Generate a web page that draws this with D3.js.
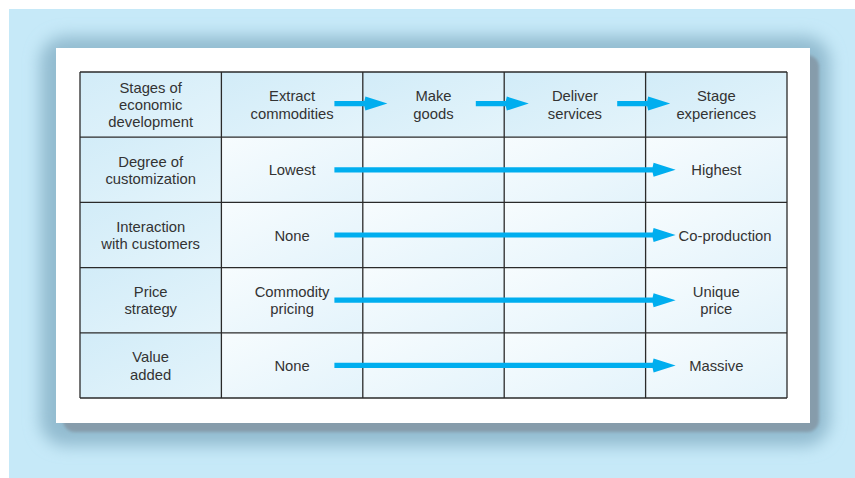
<!DOCTYPE html>
<html><head><meta charset="utf-8">
<script src="https://cdn.jsdelivr.net/npm/d3@7/dist/d3.min.js"></script>
<style>html,body{margin:0;padding:0;background:#fff;}svg{display:block;}</style>
</head><body>
<svg id="chart" width="855" height="478"></svg>
<script>
// ---- data ----
const stages = [["Extract","commodities"],["Make","goods"],["Deliver","services"],["Stage","experiences"]];
const headerLabel = ["Stages of","economic","development"];
const rowLabels = [["Degree of","customization"],["Interaction","with customers"],["Price","strategy"],["Value","added"]];
const startLabels = [["Lowest"],["None"],["Commodity","pricing"],["None"]];
const endLabels = [["Highest"],["Co-production"],["Unique","price"],["Massive"]];

const svg = d3.select("#chart");
const W = 855, H = 478;
const FONT = "'Liberation Sans',Arial,sans-serif";
const FS = 14.8, LH = 17.3;

const defs = svg.append("defs");
const blur = defs.append("filter").attr("id","halo").attr("x","-20%").attr("y","-20%").attr("width","140%").attr("height","140%");
blur.append("feGaussianBlur").attr("stdDeviation",8);
const blur2 = defs.append("filter").attr("id","shad").attr("x","-10%").attr("y","-10%").attr("width","120%").attr("height","120%");
blur2.append("feGaussianBlur").attr("stdDeviation",1.5);

const gHead = defs.append("linearGradient").attr("id","gHead").attr("x1","0").attr("y1","0").attr("x2","1").attr("y2","1");
gHead.append("stop").attr("offset","0").attr("stop-color","#d2ecf8");
gHead.append("stop").attr("offset","1").attr("stop-color","#e4f4fb");
const gBody = defs.append("linearGradient").attr("id","gBody").attr("x1","0").attr("y1","0").attr("x2","1").attr("y2","1");
gBody.append("stop").attr("offset","0").attr("stop-color","#f7fcfe");
gBody.append("stop").attr("offset","1").attr("stop-color","#e3f3fb");

// background
svg.append("rect").attr("width",W).attr("height",H).attr("fill","#fff");
svg.append("rect").attr("x",9).attr("y",9).attr("width",W-9).attr("height",H-9).attr("fill","#c6e9f8");
// halo
svg.append("rect").attr("x",40).attr("y",36).attr("width",790).attr("height",410).attr("rx",26)
  .attr("fill","#93bcd0").attr("filter","url(#halo)");
// shadow
svg.append("rect").attr("x",63).attr("y",55).attr("width",756).attr("height",377).attr("rx",12)
  .attr("fill","#869cab").attr("filter","url(#shad)");
// card
svg.append("rect").attr("x",56).attr("y",48).attr("width",754).attr("height",375).attr("fill","#fff");

// scales
const cols = d3.range(5), rows = d3.range(5);
const x = d3.scaleBand().domain(cols).range([80,787]);
const y = d3.scaleBand().domain(rows).range([72,398]);

// cells
const cells = [];
rows.forEach(r => cols.forEach(c => cells.push({r,c})));
svg.append("g").selectAll("rect").data(cells).join("rect")
  .attr("x",d=>x(d.c)).attr("y",d=>y(d.r)).attr("width",x.bandwidth()).attr("height",y.bandwidth())
  .attr("fill",d=> (d.r===0||d.c===0) ? "url(#gHead)" : "url(#gBody)");

// grid lines
const grid = svg.append("g").attr("stroke","#2a2a2a").attr("stroke-width",1.3).attr("fill","none");
cols.concat([5]).forEach(c => {
  const xx = c<5 ? x(c) : x.range()[1];
  grid.append("line").attr("x1",xx).attr("x2",xx).attr("y1",y.range()[0]).attr("y2",y.range()[1]);
});
rows.concat([5]).forEach(r => {
  const yy = r<5 ? y(r) : y.range()[1];
  grid.append("line").attr("y1",yy).attr("y2",yy).attr("x1",x.range()[0]).attr("x2",x.range()[1]);
});

function multi(g, lines, cx, cy){
  const t = g.append("text").attr("x",cx).attr("text-anchor","middle")
    .attr("font-family",FONT).attr("font-size",FS).attr("fill","#333");
  const n = lines.length;
  lines.forEach((l,i)=>{
    t.append("tspan").attr("x",cx).attr("y",cy + (i-(n-1)/2)*LH + 5.5).text(l);
  });
  return t;
}
const tg = svg.append("g");
multi(tg, headerLabel, x(0)+x.bandwidth()/2, y(0)+y.bandwidth()/2);
stages.forEach((s,i)=> multi(tg, s, x(i+1)+x.bandwidth()/2, y(0)+y.bandwidth()/2));
rowLabels.forEach((s,i)=> multi(tg, s, x(0)+x.bandwidth()/2, y(i+1)+y.bandwidth()/2));
startLabels.forEach((s,i)=> multi(tg, s, x(1)+x.bandwidth()/2, y(i+1)+y.bandwidth()/2));

// arrows
const ARROW = "#00aeef";
function arrow(g, x0, x1, yy){
  const headL = 23, headW = 7, sw = 2.6;
  g.append("path").attr("fill",ARROW)
    .attr("d",`M${x0},${yy-sw}L${x1-headL},${yy-sw}L${x1-headL+1},${yy-headW}L${x1},${yy}L${x1-headL+1},${yy+headW}L${x1-headL},${yy+sw}L${x0},${yy+sw}Z`);
}
const ag = svg.append("g");
const off0 = 113, off1 = 166; // offsets from column start
[1,2,3].forEach(c=> arrow(ag, x(c)+off0, x(c)+off1, y(0)+y.bandwidth()/2 - 1));
rows.slice(1).forEach(r=> arrow(ag, x(1)+off0, x(4)+30, y(r)+y.bandwidth()/2));

// end labels, kept clear of the arrow tip
endLabels.forEach((s,i)=>{
  const cx = x(4)+x.bandwidth()/2, cy = y(i+1)+y.bandwidth()/2;
  const t = multi(tg, s, cx, cy);
  const w = t.node().getBBox().width;
  const minC = x(4)+30+3+w/2;
  if (minC > cx) t.attr("transform",`translate(${minC-cx},0)`);
});
</script>
</body></html>
